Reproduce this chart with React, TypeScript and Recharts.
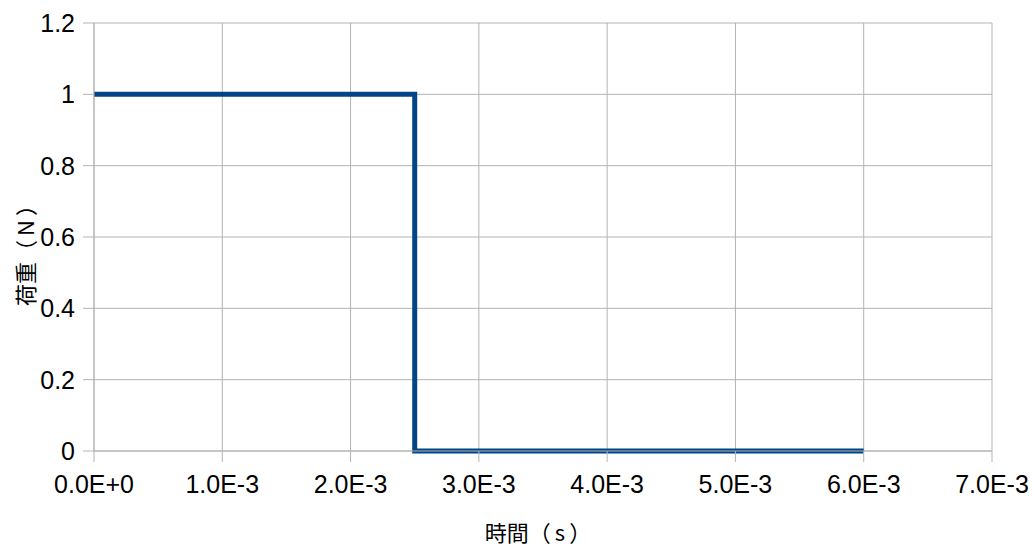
import { CartesianGrid, Label, Line, LineChart, XAxis, YAxis } from 'recharts'

const times = [0, 0.0025, 0.0025, 0.006]
const loads = [1, 1, 0, 0]

const xTicks = [0, 0.001, 0.002, 0.003, 0.004, 0.005, 0.006, 0.007]
const xTickLabels = ['0.0E+0', '1.0E-3', '2.0E-3', '3.0E-3', '4.0E-3', '5.0E-3', '6.0E-3', '7.0E-3']
const yTicks = [0, 0.2, 0.4, 0.6, 0.8, 1, 1.2]
const yTickLabels = ['0', '0.2', '0.4', '0.6', '0.8', '1', '1.2']

const data = times.map((t, i) => ({ t, load: loads[i] }))

const grid = '#b3b3b3'
const font = '"Liberation Sans", Arial, sans-serif'
const cjk = '"Noto Sans CJK JP", sans-serif'

const pick = (ticks: number[], labels: string[]) => (v: number) =>
  labels[ticks.findIndex((x) => Math.abs(x - v) < 1e-9)]

// axis title: word, then unit in fullwidth brackets with a little air around it
function Title({ x, y, word, unit, rotate }: { x: number; y: number; word: string; unit: string; rotate?: boolean }) {
  return (
    <text
      x={x}
      y={y}
      textAnchor="middle"
      dominantBaseline="central"
      fill="#000"
      fontSize={22}
      fontFamily={cjk}
      transform={rotate ? `rotate(-90, ${x}, ${y})` : undefined}
    >
      {word}（<tspan dx={4}>{unit}</tspan>
      <tspan dx={4}>）</tspan>
    </text>
  )
}

function XTitle(props: any) {
  const vb = props.viewBox
  return <Title x={vb.x + vb.width / 2 - 5} y={vb.y + 80} word="時間" unit="s" />
}

function YTitle(props: any) {
  const vb = props.viewBox
  return <Title x={vb.x + 24} y={vb.y + vb.height / 2 + 13} word="荷重" unit="N" rotate />
}

export default function App() {
  return (
    <div style={{ position: 'absolute', left: 0, top: 0, background: '#fff' }}>
      <LineChart
        width={1034}
        height={547}
        data={data}
        margin={{ top: 23, right: 42, bottom: 0, left: 0 }}
      >
        <CartesianGrid stroke={grid} strokeWidth={1} />
        <XAxis
          dataKey="t"
          type="number"
          domain={[0, 0.007]}
          ticks={xTicks}
          interval={0}
          tickFormatter={pick(xTicks, xTickLabels)}
          stroke={grid}
          tickSize={11}
          tickMargin={13}
          height={96}
          fontSize={25}
          fontFamily={font}
          tick={{ fill: '#000', fontSize: 25, fontFamily: font }}
        >
          <Label content={<XTitle />} />
        </XAxis>
        <YAxis
          type="number"
          domain={[0, 1.2]}
          ticks={yTicks}
          interval={0}
          tickFormatter={pick(yTicks, yTickLabels)}
          stroke={grid}
          tickSize={11}
          tickMargin={8}
          width={94}
          fontSize={25}
          fontFamily={font}
          tick={{ fill: '#000', fontSize: 25, fontFamily: font }}
        >
          <Label content={<YTitle />} />
        </YAxis>
        <Line
          type="linear"
          dataKey="load"
          stroke="#004586"
          strokeWidth={5}
          dot={false}
          activeDot={false}
          isAnimationActive={false}
        />
      </LineChart>
    </div>
  )
}
